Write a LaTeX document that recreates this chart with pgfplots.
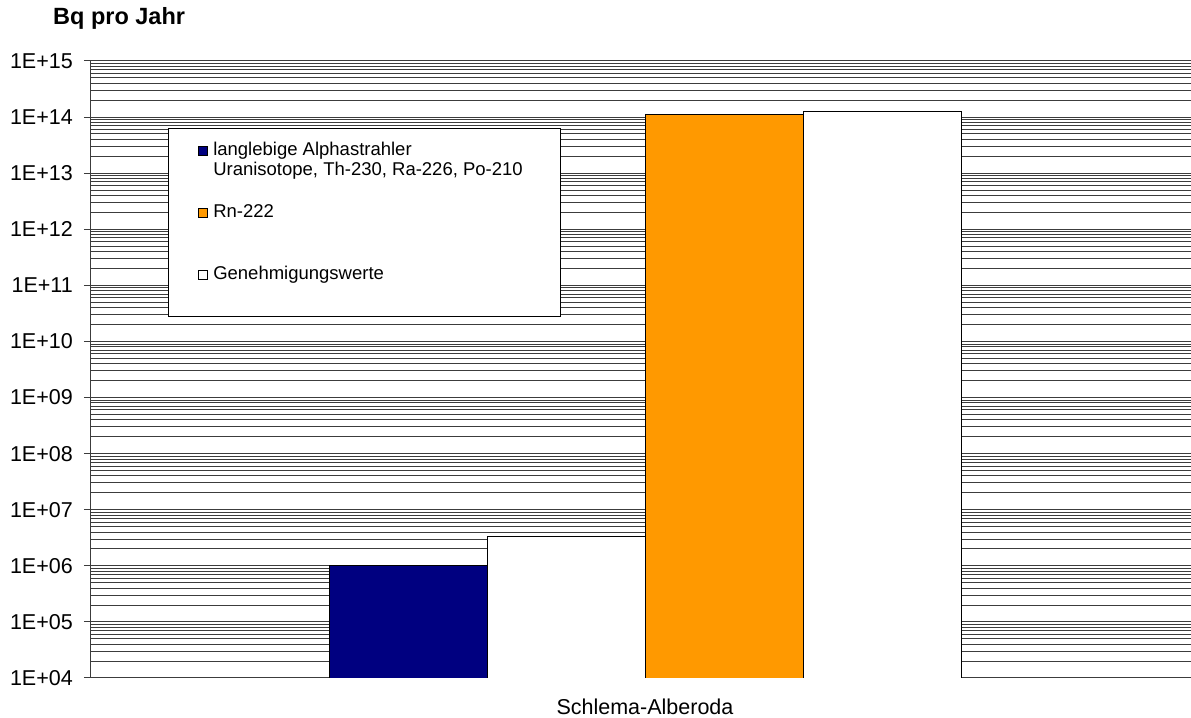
\documentclass[border=0pt]{standalone}
\usepackage{fontspec}
\setmainfont{Liberation Sans}
\usepackage{pgfplots}
\pgfplotsset{compat=1.18}

\definecolor{alphanavy}{RGB}{0,0,128}
\definecolor{rnorange}{RGB}{255,153,0}
\definecolor{gridgray}{RGB}{60,60,60}

% strut of height 14bp and a chosen depth, to space the legend rows
\newcommand\lrow[1]{\rule[-#1]{0pt}{\dimexpr#1+14bp\relax}}

\begin{document}
\begin{tikzpicture}
\useasboundingbox (-91bp,-40bp) rectangle (1100bp,678bp);
\begin{axis}[
  at={(0,0)}, anchor=south west,
  scale only axis,
  width=1100bp, height=617bp,
  xmin=0, xmax=1100,
  ymode=log, ymin=1e4, ymax=1e15,
  log origin=infty,
  axis lines*=left,
  axis line style={gridgray, line width=1bp},
  xtick={554},
  xticklabels={Schlema-Alberoda},
  major x tick style={draw=none},
  xticklabel style={font=\fontsize{21.5bp}{25bp}\selectfont, inner sep=0pt, yshift=-14bp},
  ytick={1e4,1e5,1e6,1e7,1e8,1e9,1e10,1e11,1e12,1e13,1e14,1e15},
  yticklabels={1E+04,1E+05,1E+06,1E+07,1E+08,1E+09,1E+10,1E+11,1E+12,1E+13,1E+14,1E+15},
  yticklabel style={font=\fontsize{21.5bp}{25bp}\selectfont, inner sep=0pt, xshift=-11bp},
  tick align=outside,
  major tick length=7bp,
  minor tick length=0pt,
  tick style={gridgray, line width=1bp},
  ymajorgrids, yminorgrids,
  major grid style={gridgray, line width=1bp},
  minor grid style={gridgray, line width=1bp},
  legend image code/.code={\draw[#1, draw=black, line width=0.8bp] (0bp,0.5bp) rectangle (9bp,9.5bp);},
  legend cell align=left,
  legend style={
    at={(0.07,0.8914)}, anchor=north west,
    draw=black, line width=0.9bp, fill=white,
    inner xsep=30bp, inner ysep=13bp,
    column sep=5bp, row sep=1bp,
    nodes={inner sep=0pt, text depth=},
    cells={anchor=base west},
    font=\fontsize{18.5bp}{22bp}\selectfont,
  },
]
% alpha emitters and their permitted value
\addplot[ybar, bar shift=0pt, bar width=158, fill=alphanavy, draw=black, line width=0.9bp, forget plot]
  coordinates {(317,1e6)};
\addplot[ybar, bar shift=0pt, bar width=158, fill=white, draw=black, line width=0.9bp, forget plot]
  coordinates {(475,3.4e6)};
% Rn-222 and its permitted value
\addplot[ybar, bar shift=0pt, bar width=158, fill=rnorange, draw=black, line width=0.9bp, forget plot]
  coordinates {(633,1.1e14)};
\addplot[ybar, bar shift=0pt, bar width=158, fill=white, draw=black, line width=0.9bp, forget plot]
  coordinates {(791,1.25e14)};

\addlegendimage{fill=alphanavy}
\addlegendentry{\lrow{5bp}langlebige Alphastrahler}
\addlegendimage{empty legend}
\addlegendentry{\lrow{27bp}Uranisotope, Th-230, Ra-226, Po-210\hspace*{8bp}}
\addlegendimage{fill=rnorange}
\addlegendentry{\lrow{47bp}Rn-222}
\addlegendimage{fill=white}
\addlegendentry{\lrow{24bp}Genehmigungswerte}
\end{axis}
\node[anchor=base west, inner sep=0pt, font=\bfseries\fontsize{23.5bp}{27bp}\selectfont] at (-38bp,653bp) {Bq pro Jahr};
\end{tikzpicture}
\end{document}
